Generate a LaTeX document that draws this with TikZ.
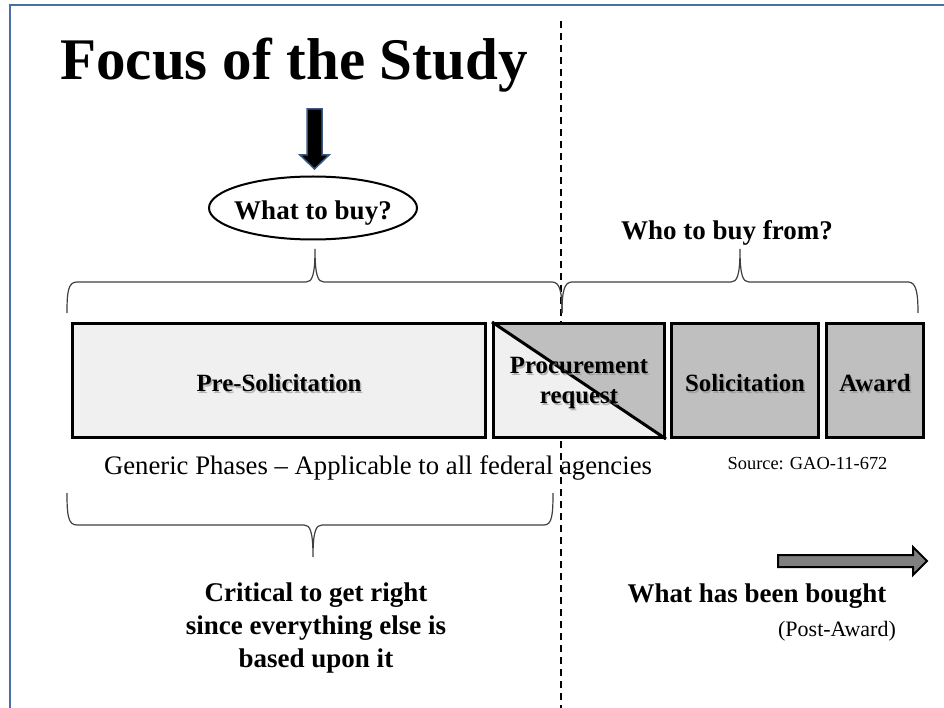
\documentclass[tikz,border=0pt]{standalone}
\usepackage{fontspec}
\setmainfont{Liberation Serif}
\usetikzlibrary{shapes.geometric}
\definecolor{frameblue}{HTML}{4A6FA5}
\definecolor{lightfill}{HTML}{F0F0F0}
\definecolor{midfill}{HTML}{BFBFBF}
\definecolor{arrowgray}{HTML}{808080}
\definecolor{bracegray}{HTML}{404040}
\tikzset{
  phasebox/.style={draw=black, line width=3pt, fill=midfill},
  bracepath/.style={draw=bracegray, line width=1.2pt},
  boldtext/.style={font=\fontsize{27}{33}\selectfont\bfseries, align=center, inner sep=0pt},
  shadowtext/.style={font=\fontsize{24.8}{30}\selectfont\bfseries, align=center, inner sep=0pt, text=black!45, opacity=0.6},
  boxtext/.style={font=\fontsize{24.8}{30}\selectfont\bfseries, align=center, inner sep=0pt},
}
\begin{document}
\begin{tikzpicture}[x=1pt,y=-1pt]
\useasboundingbox (0,0) rectangle (944,708);
\fill[white] (0,0) rectangle (944,708);
% frame
\draw[frameblue, line width=2pt] (10,708) -- (10,5) -- (944,5);
% dashed divider
\draw[black, line width=2.2pt, dash pattern=on 7pt off 5pt] (561,21) -- (561,708);
% title
\node[font=\fontsize{59}{66}\selectfont\bfseries, inner sep=0pt, anchor=base] (title) at (294,80) {Focus of the Study};
% down arrow
\draw[draw=frameblue!80!black, line width=1.5pt, fill=black, line join=miter]
  (307,109) -- (322,109) -- (322,155) -- (329,155) -- (314.5,169) -- (300,155) -- (307,155) -- cycle;
% ellipse
\node[ellipse, draw=black, line width=2pt, minimum width=208pt, minimum height=63pt, inner sep=0pt] (what) at (313,208) {};
\node[boldtext, anchor=base] (whattext) at (313,220) {What to buy?};
% who to buy from
\node[boldtext, anchor=base] (who) at (727,240) {Who to buy from?};
% top braces
\path[bracepath] (67,313) .. controls (67,292) and (68,282) .. (77,282) -- (306,282)
  .. controls (312,282) and (315,276) .. (315,249)
  .. controls (315,276) and (318,282) .. (324,282) -- (552,282)
  .. controls (560,282) and (562,292) .. (562,313);
\path[bracepath] (562,313) .. controls (562,292) and (564,282) .. (572,282) -- (731,282)
  .. controls (737,282) and (740,276) .. (740,249)
  .. controls (740,276) and (743,282) .. (749,282) -- (908,282)
  .. controls (916,282) and (918,292) .. (918,313);
% boxes
\node[phasebox, fill=lightfill, anchor=north west, minimum width=413pt, minimum height=114pt, inner sep=0pt] (pre) at (71,322) {};
\fill[lightfill] (492,322) rectangle (663,436);
\fill[midfill] (492,322) -- (663,322) -- (663,436) -- cycle;
\node[draw=black, line width=3pt, anchor=north west, minimum width=171pt, minimum height=114pt, inner sep=0pt] (proc) at (492,322) {};
\draw[black, line width=3pt] (proc.north west) -- (proc.south east);
\node[phasebox, anchor=north west, minimum width=147pt, minimum height=114pt, inner sep=0pt] (sol) at (670,322) {};
\node[phasebox, anchor=north west, minimum width=97pt, minimum height=114pt, inner sep=0pt] (award) at (825,322) {};
% box texts with shadow
\node[shadowtext] at ([shift={(1.5pt,-4.5pt)}]pre.center) {Pre-Solicitation};
\node[boxtext] (pretext) at ([yshift=-3pt]pre.center) {Pre-Solicitation};
\node[shadowtext] at ([shift={(1.5pt,-4.5pt)}]proc.center) {Procurement\\request};
\node[boxtext] (proctext) at ([yshift=-3pt]proc.center) {Procurement\\request};
\node[shadowtext] at ([shift={(1.5pt,-4.5pt)}]sol.center) {Solicitation};
\node[boxtext] (soltext) at ([yshift=-3pt]sol.center) {Solicitation};
\node[shadowtext] at ([shift={(1.5pt,-4.5pt)}]award.center) {Award};
\node[boxtext] (awardtext) at ([yshift=-3pt]award.center) {Award};
% generic phases
\node[font=\fontsize{26.7}{30}\selectfont, inner sep=0pt, anchor=base] (generic) at (378,474) {Generic Phases -- Applicable to all federal agencies};
\node[font=\fontsize{18.4}{22}\selectfont, inner sep=0pt, anchor=base] (source) at (807.5,469) {Source: GAO-11-672};
% bottom brace
\path[bracepath] (67,493) .. controls (67,515) and (68,525) .. (77,525) -- (304,525)
  .. controls (310,525) and (313,531) .. (313,557)
  .. controls (313,531) and (316,525) .. (322,525) -- (544,525)
  .. controls (552,525) and (553,515) .. (553,493);
% critical text
\node[font=\fontsize{27}{33}\selectfont\bfseries, align=center, inner sep=0pt, anchor=north] (critical) at (316,583) {Critical to get right\\since everything else is\\based upon it};
% right arrow
\draw[black, line width=2pt, fill=arrowgray, line join=miter]
  (778,555) -- (913,555) -- (913,547) -- (927,561) -- (913,575) -- (913,567) -- (778,567) -- cycle;
\node[boldtext, anchor=base] (bought) at (757,602) {What has been bought};
\node[font=\fontsize{22}{26}\selectfont, inner sep=0pt, anchor=base] (post) at (837,636) {(Post-Award)};
\end{tikzpicture}
\end{document}
